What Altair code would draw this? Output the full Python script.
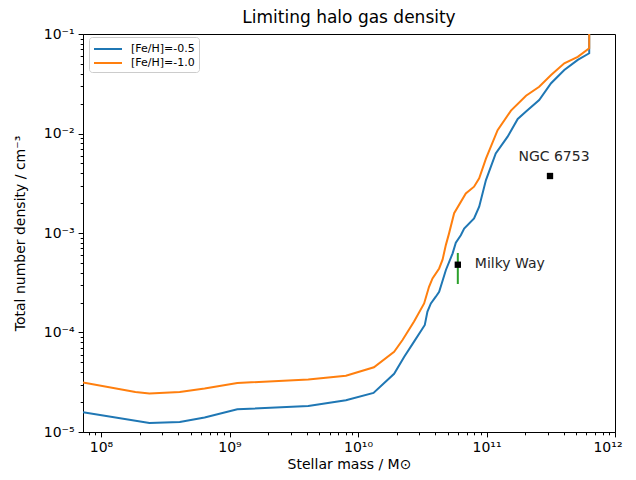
import math
import altair as alt
import pandas as pd

# ---- data ----
series_names = ["[Fe/H]=-0.5", "[Fe/H]=-1.0"]
series_colors = ["#1f77b4", "#ff7f0e"]

mass_blue = [7.24e7, 2.38e8, 4.1e8, 6.4e8, 1.15e9, 4.1e9, 8.05e9, 1.32e10,
             1.91e10, 2.29e10, 2.73e10, 3.31e10, 3.47e10, 3.69e10, 4.03e10,
             4.28e10, 4.83e10, 5.45e10, 5.77e10, 6.31e10, 6.7e10, 8.0e10,
             8.77e10, 9.9e10, 1.18e11, 1.46e11, 1.75e11, 2.03e11, 2.57e11,
             3.18e11, 4.03e11, 5.13e11, 6.3e11, 6.3e11]
dens_blue = [1.58e-5, 1.23e-5, 1.26e-5, 1.4e-5, 1.69e-5, 1.83e-5, 2.09e-5, 2.47e-5,
             3.85e-5, 5.7e-5, 8.1e-5, 1.19e-4, 1.62e-4, 1.96e-4, 2.29e-4,
             2.57e-4, 4.25e-4, 6.25e-4, 8.0e-4, 9.5e-4, 1.11e-3, 1.4e-3,
             1.84e-3, 3.4e-3, 6.3e-3, 9.3e-3, 1.4e-2, 1.66e-2, 2.17e-2,
             3.2e-2, 4.34e-2, 5.5e-2, 6.4e-2, 1.0]

mass_orange = [7.24e7, 1.85e8, 2.38e8, 4.1e8, 6.4e8, 1.15e9, 4.1e9, 8.05e9,
               1.33e10, 1.91e10, 2.22e10, 2.73e10, 3.27e10, 3.57e10, 3.8e10,
               4.28e10, 4.55e10, 4.83e10, 5.1e10, 5.6e10, 6.9e10, 8.0e10,
               8.77e10, 9.9e10, 1.22e11, 1.55e11, 2.03e11, 2.57e11, 3.18e11,
               4.03e11, 5.13e11, 6.3e11, 6.3e11]
dens_orange = [3.15e-5, 2.52e-5, 2.44e-5, 2.52e-5, 2.73e-5, 3.11e-5, 3.37e-5, 3.67e-5,
               4.47e-5, 6.4e-5, 8.4e-5, 1.29e-4, 1.96e-4, 2.88e-4, 3.5e-4,
               4.4e-4, 5.4e-4, 7.6e-4, 9.8e-4, 1.58e-3, 2.5e-3, 2.92e-3,
               3.55e-3, 5.6e-3, 1.08e-2, 1.7e-2, 2.4e-2, 2.95e-2, 3.87e-2,
               5.07e-2, 5.9e-2, 7.2e-2, 1.0]

obj_names = ["Milky Way", "NGC 6753"]
obj_mass = [5.98e10, 3.12e11]
obj_dens = [4.8e-4, 3.74e-3]
mw_err_low = [3.07e-4]
mw_err_high = [6.3e-4]

x_domain = [7.24e7, 1e12]
y_domain = [1e-5, 1e-1]
x_major = [1e8, 1e9, 1e10, 1e11, 1e12]
y_major = [1e-5, 1e-4, 1e-3, 1e-2, 1e-1]
x_minor = [m * 10.0 ** e for e in range(7, 12) for m in range(2, 10)]
y_minor = [m * 10.0 ** e for e in range(-5, -1) for m in range(2, 10)]

# ---- tables ----
rows = []
for name, ms, ds in [(series_names[0], mass_blue, dens_blue),
                     (series_names[1], mass_orange, dens_orange)]:
    for i, (m, d) in enumerate(zip(ms, ds)):
        rows.append({"series": name, "mass": m, "dens": d, "idx": i})
lines_df = pd.DataFrame(rows)

obj_df = pd.DataFrame({"name": obj_names, "mass": obj_mass, "dens": obj_dens})
err_df = pd.DataFrame({"mass": [obj_mass[0]], "lo": mw_err_low, "hi": mw_err_high})

SUP = {"-": "\u207b", "0": "\u2070", "1": "\u00b9", "2": "\u00b2", "3": "\u00b3",
       "4": "\u2074", "5": "\u2075", "6": "\u2076", "7": "\u2077", "8": "\u2078", "9": "\u2079"}


def label_expr(majors):
    parts = []
    for v in majors:
        e = int(round(math.log10(v)))
        txt = "10" + "".join(SUP[c] for c in str(e))
        parts.append(f"round(log(datum.value)/LN10*1000)=={e*1000} ? '{txt}'")
    return " : ".join(parts) + " : ''"


tick_size = {"condition": {"test": "abs(log(datum.value)/LN10 - round(log(datum.value)/LN10)) < 0.001",
                           "value": 4.9},
             "value": 2.8}

FONT = "DejaVu Sans"

x_axis = alt.Axis(values=[v for v in x_major + x_minor if x_domain[0] <= v <= x_domain[1]],
                  labelExpr=label_expr(x_major), tickSize=tick_size, grid=False,
                  labelOverlap=False, labelFlush=True, labelFlushOffset=7,
                  labelPadding=4, labelBaseline="top",
                  title="Stellar mass / M\u2299", titlePadding=3)
y_axis = alt.Axis(values=[v for v in y_major + y_minor if y_domain[0] <= v <= y_domain[1]],
                  labelExpr=label_expr(y_major), tickSize=tick_size, grid=False,
                  labelOverlap=False, labelFlush=False, labelPadding=4,
                  title="Total number density / cm\u207b\u00b3", titlePadding=16)

xs = alt.Scale(type="log", domain=x_domain, nice=False)
ys = alt.Scale(type="log", domain=y_domain, nice=False)

lines = alt.Chart(lines_df).mark_line(strokeWidth=2, clip=True).encode(
    x=alt.X("mass:Q", scale=xs, axis=x_axis),
    y=alt.Y("dens:Q", scale=ys, axis=y_axis),
    color=alt.Color("series:N",
                    scale=alt.Scale(domain=series_names, range=series_colors),
                    legend=alt.Legend(title=None, orient="none", legendX=6, legendY=3,
                                      symbolType="M-1,0L3,0", symbolSize=196,
                                      symbolStrokeWidth=2, labelFontSize=11,
                                      labelFont=FONT, labelColor="black",
                                      labelOffset=22, fillColor="white",
                                      strokeColor="#cccccc", cornerRadius=3,
                                      padding=4, rowPadding=1)),
    order="idx:Q",
)

err = alt.Chart(err_df).mark_rule(color="#2ca02c", strokeWidth=2).encode(
    x=alt.X("mass:Q", scale=xs), y=alt.Y("lo:Q", scale=ys), y2="hi:Q")

pts = alt.Chart(obj_df).mark_point(shape="square", filled=True, color="black",
                                   size=40, opacity=1).encode(
    x=alt.X("mass:Q", scale=xs), y=alt.Y("dens:Q", scale=ys))

txt_mw = alt.Chart(obj_df).transform_filter(alt.datum.name == "Milky Way").mark_text(
    align="left", baseline="middle", dx=17, dy=-1, fontSize=14, font=FONT, color="#262626"
).encode(x=alt.X("mass:Q", scale=xs), y=alt.Y("dens:Q", scale=ys), text="name:N")

txt_ngc = alt.Chart(obj_df).transform_filter(alt.datum.name == "NGC 6753").mark_text(
    align="center", baseline="middle", dx=4, dy=-19, fontSize=14, font=FONT, color="#262626"
).encode(x=alt.X("mass:Q", scale=xs), y=alt.Y("dens:Q", scale=ys), text="name:N")

chart = alt.layer(lines, err, pts, txt_mw, txt_ngc).properties(
    width=532, height=398,
    title=alt.Title("Limiting halo gas density", fontSize=17, font=FONT,
                    fontWeight="normal", color="black", offset=6, dy=6),
    autosize=alt.AutoSizeParams(type="none"),
    padding={"left": 75, "top": 26, "right": 13, "bottom": 40},
    background="white",
).configure_view(stroke="black", strokeWidth=1).configure_axis(
    labelFont=FONT, titleFont=FONT, labelFontSize=14, titleFontSize=14,
    labelColor="black", titleColor="black", titleFontWeight="normal",
    domainColor="black", tickColor="black", tickWidth=1, domainWidth=1,
)

chart.save("out.html", embed_options={"renderer": "svg", "actions": False})
